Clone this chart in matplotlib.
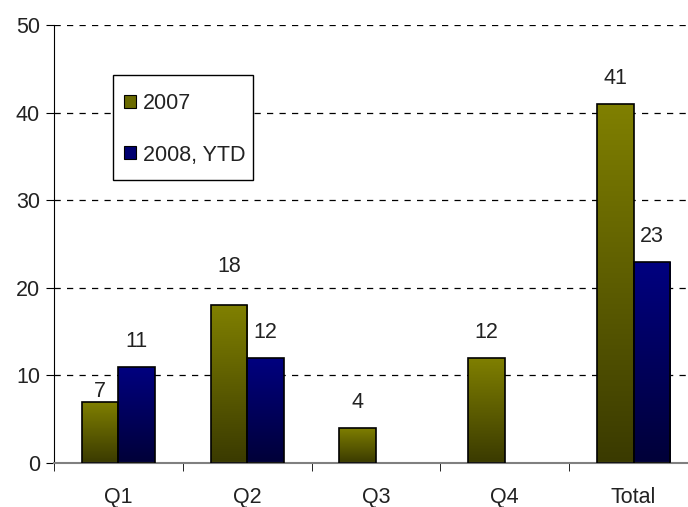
import matplotlib.pyplot as plt
import numpy as np
from matplotlib.colors import LinearSegmentedColormap
from matplotlib.patches import Patch, Rectangle

categories = ["Q1", "Q2", "Q3", "Q4", "Total"]
s2007 = [7, 18, 4, 12, 41]
s2008 = [11, 12, None, None, 23]

plt.rcParams["font.family"] = ["Liberation Sans", "DejaVu Sans"]
FS = 15.5
TXT = "#222222"

fig = plt.figure(figsize=(6.88, 5.07), dpi=100)
ax = fig.add_axes([54 / 688, 1 - 463 / 507, 644 / 688, 438 / 507])

x = np.arange(len(categories))
w = 0.284

olive = LinearSegmentedColormap.from_list("ol", ["#3a3a00", "#808000"])
navy = LinearSegmentedColormap.from_list("nv", ["#000038", "#000080"])
grad = np.linspace(0, 1, 256).reshape(-1, 1)


def gradient_bars(bars, cmap):
    for b in bars:
        x0, y0 = b.get_x(), b.get_y()
        im = ax.imshow(grad, cmap=cmap, aspect="auto", origin="lower",
                       extent=[x0, x0 + b.get_width(), y0, y0 + b.get_height()],
                       zorder=2)
        im.set_clip_path(b)


v07 = np.array(s2007, dtype=float)
v08 = np.array([np.nan if v is None else v for v in s2008])

b1 = ax.bar(x - w / 2, v07, w, facecolor="none", edgecolor="black", lw=1.2, zorder=3)
b2 = ax.bar(x + w / 2, np.nan_to_num(v08), w, facecolor="none", edgecolor="black", lw=1.2, zorder=3)
b2_real = []
for b, v in zip(b2, v08):
    if np.isnan(v):
        b.set_visible(False)
    else:
        b2_real.append(b)
gradient_bars(b1, olive)
gradient_bars(b2_real, navy)

# value labels (a couple nudged like the original)
off07 = {0: 7, 1: 28}
for i, v in enumerate(s2007):
    ax.annotate(str(v), (x[i] - w / 2, v), xytext=(0, off07.get(i, 18)),
                textcoords="offset points", ha="center", va="center",
                fontsize=FS, color=TXT)
for i, v in enumerate(s2008):
    if v is None:
        continue
    ax.annotate(str(v), (x[i] + w / 2, v), xytext=(0, 18),
                textcoords="offset points", ha="center", va="center",
                fontsize=FS, color=TXT)

ax.set_xlim(-0.5, len(categories) - 0.5)
ax.set_ylim(0, 50)
ax.set_yticks(range(0, 51, 10))
ax.yaxis.grid(True, linestyle=(0, (5, 5)), color="black", lw=0.9)
ax.set_axisbelow(True)

ax.set_xticks(x)
ax.set_xticklabels(categories)
ax.set_xticks(np.arange(-0.5, len(categories) - 0.5, 1), minor=True)
ax.tick_params(axis="x", which="major", length=0, pad=17.5, labelsize=FS, labelcolor=TXT)
ax.tick_params(axis="x", which="minor", length=6, direction="out", color="black")
ax.tick_params(axis="y", length=6, direction="out", labelsize=FS, labelcolor=TXT, pad=4)

for s in ["top", "right"]:
    ax.spines[s].set_visible(False)
ax.spines["bottom"].set_color("#808080")
ax.spines["bottom"].set_linewidth(1.5)
ax.spines["left"].set_color("black")

# legend box drawn separately (Excel-style uneven padding)
ax.add_patch(Rectangle((0.0916, 0.6461), 0.2174, 0.2397, transform=ax.transAxes,
                       facecolor="white", edgecolor="black", lw=1.0, zorder=4))
handles = [Patch(facecolor="#6a6a00", edgecolor="black", lw=0.8),
           Patch(facecolor="#000070", edgecolor="black", lw=0.8)]
leg = ax.legend(handles, ["2007", "2008, YTD"], loc="upper left",
                bbox_to_anchor=((124 - 54) / 644, 1 - (93 - 25) / 438), fontsize=FS,
                frameon=False, labelspacing=1.42, handlelength=0.55, handleheight=0.55,
                handletextpad=0.33, borderpad=0, borderaxespad=0)
leg.set_zorder(5)
for t in leg.get_texts():
    t.set_color(TXT)

fig.savefig("out.png", dpi=100)
